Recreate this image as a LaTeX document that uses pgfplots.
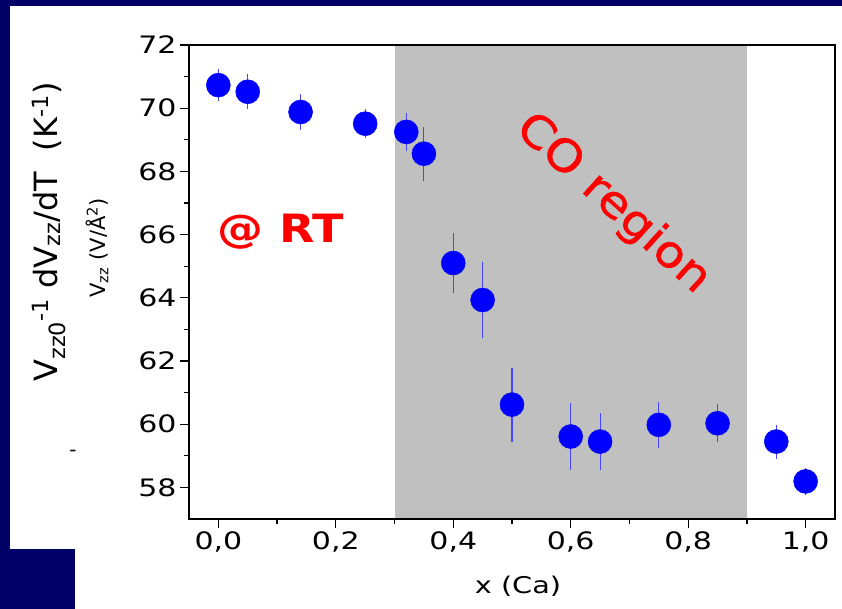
\documentclass[border=0pt]{standalone}
\usepackage{fontspec}
\setmainfont{DejaVu Sans}
\newfontfamily\tickfont{DejaVu Sans}[FakeStretch=1.25]
\newfontfamily\widefont{DejaVu Sans}[FakeStretch=1.18]
\newfontfamily\cofont{DejaVu Sans}[FakeStretch=1.12, FakeBold=1.2]
\usepackage{pgfplots}
\pgfplotsset{compat=1.18}
\definecolor{navy}{RGB}{0,0,102}
\definecolor{errblue}{RGB}{70,70,255}
\definecolor{regiongray}{RGB}{192,192,192}
\pgfplotstableread{
x    y     e
0.00 70.73 0.50
0.05 70.52 0.55
0.14 69.88 0.58
0.25 69.51 0.45
0.32 69.25 0.60
0.35 68.56 0.86
0.40 65.10 0.96
0.45 63.93 1.20
0.50 60.62 1.17
0.60 59.61 1.07
0.65 59.45 0.90
0.75 59.98 0.73
0.85 60.03 0.60
0.95 59.45 0.54
1.00 58.19 0.42
}\datatable
\begin{document}
\begin{tikzpicture}
\useasboundingbox (0,0) rectangle (842bp,609bp);
\fill[white] (0,0) rectangle (842bp,609bp);
\fill[navy] (0,603bp) rectangle (842bp,609bp);
\fill[navy] (0,0) rectangle (10bp,609bp);
\fill[navy] (0,0) rectangle (75bp,60bp);
\begin{axis}[
  at={(189bp,90bp)}, anchor=south west,
  scale only axis, width=646bp, height=474bp,
  xmin=-0.05, xmax=1.05, ymin=57, ymax=72,
  xtick={0,0.2,0.4,0.6,0.8,1},
  minor xtick={0.1,0.3,0.5,0.7,0.9},
  ytick={58,60,62,64,66,68,70,72},
  minor ytick={59,61,63,65,67,69,71},
  xtick pos=bottom, ytick pos=left,
  tick align=outside,
  major tick length=9bp, minor tick length=5bp,
  axis line style={line width=1.5bp, black},
  every tick/.style={black, line width=1.2bp},
  axis on top,
  /pgf/number format/assume math mode=true,
  tick label style={font=\tickfont\fontsize{24bp}{26bp}\selectfont, black},
  xticklabel style={/pgf/number format/.cd, fixed, fixed zerofill, precision=1, use comma},
  yticklabel style={/pgf/number format/.cd, fixed, precision=0},
]
\fill[regiongray] (axis cs:0.3,57) rectangle (axis cs:0.9,72);
\addplot[only marks, mark=*, mark size=12bp, color=blue, mark options={fill=blue, draw=blue, line width=0.5bp},
  error bars/.cd, y dir=both, y explicit, error mark=none,
  error bar style={errblue, line width=1.1bp}]
  table[x=x, y=y, y error=e] {\datatable};
\end{axis}
% y labels
\node[rotate=90, anchor=base, font=\fontsize{32bp}{35bp}\selectfont] at (57bp,377bp)
  {V\textsubscript{zz0}\textsuperscript{-1} dV\textsubscript{zz}/dT~~(K\textsuperscript{-1})};
\node[rotate=90, anchor=center, font=\fontsize{21bp}{24bp}\selectfont] at (97bp,361bp)
  {V\textsubscript{zz} (V/Å\textsuperscript{2})};
\node[font=\fontsize{20bp}{22bp}\selectfont] at (73bp,156bp) {-};
% x label
\node[anchor=base, font=\tickfont\fontsize{23bp}{26bp}\selectfont] at (518bp,16bp) {x (Ca)};
% annotations
\node[anchor=base west, text=red, font=\widefont\bfseries\fontsize{39bp}{42bp}\selectfont, inner sep=0pt] at (217bp,366bp) {@ RT};
\node[rotate=-42, text=red, font=\cofont\fontsize{44bp}{46bp}\selectfont] at (613bp,405bp) {CO region};
\end{tikzpicture}
\end{document}
